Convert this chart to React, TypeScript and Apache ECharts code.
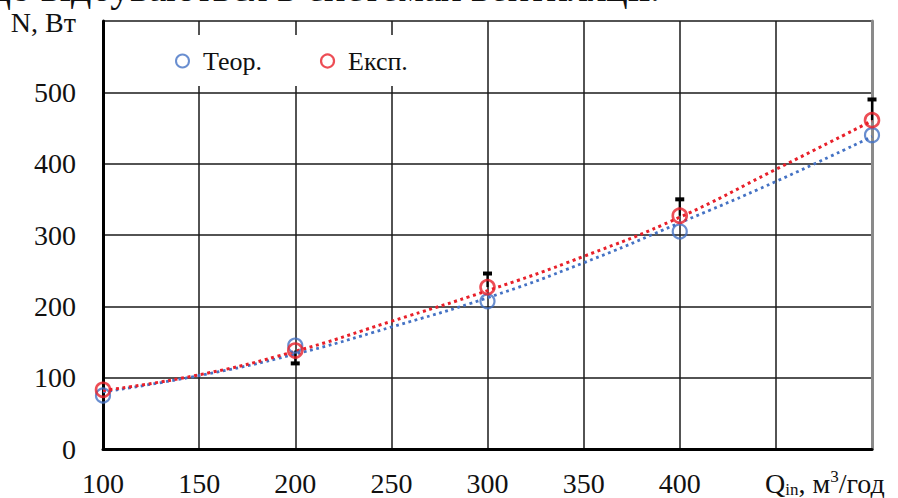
import React, { useEffect, useRef } from "react";
import * as echarts from "echarts";

const xTicks = [100, 150, 200, 250, 300, 350, 400, 450, 500];
const hiddenXLabels = [450, 500];
const teorPoints = [[100, 75], [200, 145], [300, 207], [400, 305], [500, 440]];
const ekspPoints = [[100, 83], [200, 138], [300, 227], [400, 327], [500, 461]];
const teorTrend = [[100, 80], [150, 103], [200, 133], [250, 171], [300, 212], [350, 261], [400, 317], [450, 375], [500, 438]];
const ekspTrend = [[100, 82], [150, 104], [200, 137], [250, 179], [300, 222], [350, 270], [400, 325], [450, 392], [500, 460]];
// [x, start (at point), end (cap)]
const errorBars = [[200, 138, 120], [300, 227, 246], [400, 327, 350], [500, 461, 490]];

const BLUE = "#4472C4";
const RED = "#E8202A";
const FONT = "Liberation Serif";

export default function App() {
  const ref = useRef<HTMLDivElement>(null);
  useEffect(() => {
    document.body.style.margin = "0";
    const chart = echarts.init(ref.current!, null, { renderer: "svg" });
    chart.setOption({
      animation: false,
      backgroundColor: "#fff",
      textStyle: { fontFamily: FONT, color: "#111" },
      grid: { left: 103, right: 26, top: 21, bottom: 49 },
      legend: {
        left: 118,
        top: 35,
        padding: [13, 28, 12, 57],
        backgroundColor: "#fff",
        itemGap: 58,
        itemWidth: 13,
        itemHeight: 13,
        textStyle: { fontFamily: FONT, fontSize: 26, color: "#111", padding: [0, 0, 0, 9] },
        data: [
          { name: "Теор.", icon: "circle", itemStyle: { color: "#fff", borderColor: BLUE, borderWidth: 2 } },
          { name: "Експ.", icon: "circle", itemStyle: { color: "#fff", borderColor: RED, borderWidth: 2.2 } },
        ],
      },
      xAxis: {
        type: "value",
        min: 100,
        max: 500,
        interval: 50,
        axisLine: { show: true, onZero: false, lineStyle: { color: "#000", width: 3 } },
        axisTick: { show: false },
        axisLabel: {
          fontFamily: FONT,
          fontSize: 28,
          color: "#111",
          margin: 20,
          formatter: (v: number) => (hiddenXLabels.includes(v) ? "" : String(v)),
        },
        splitLine: { show: true, lineStyle: { color: "#1a1a1a", width: 1.5 } },
      },
      yAxis: [
        {
          type: "value",
          min: 0,
          max: 600,
          interval: 100,
          axisLine: { show: true, lineStyle: { color: "#000", width: 3 } },
          axisTick: { show: false },
          axisLabel: {
            fontFamily: FONT,
            fontSize: 28,
            color: "#111",
            margin: 27,
            formatter: (v: number) => (v === 600 ? "" : String(v)),
          },
          splitLine: { show: true, lineStyle: { color: "#1a1a1a", width: 1.5 } },
        },
        {
          type: "value",
          min: 0,
          max: 600,
          interval: 100,
          position: "right",
          axisLine: { show: true, lineStyle: { color: "#8a8a8a", width: 3 } },
          axisTick: { show: false },
          axisLabel: { show: false },
          splitLine: { show: false },
        },
      ],
      series: [
        {
          type: "line",
          name: "teorTrend",
          data: teorTrend,
          smooth: true,
          symbol: "none",
          lineStyle: { color: BLUE, width: 2.8, type: [2.8, 3.6] },
          z: 3,
        },
        {
          type: "line",
          name: "ekspTrend",
          data: ekspTrend,
          smooth: true,
          symbol: "none",
          lineStyle: { color: RED, width: 3, type: [3, 3.6] },
          z: 3,
        },
        {
          type: "custom",
          name: "errors",
          data: errorBars,
          z: 4,
          renderItem: (params: any, api: any) => {
            const x = api.value(0);
            const p1 = api.coord([x, api.value(1)]);
            const p2 = api.coord([x, api.value(2)]);
            return {
              type: "group",
              children: [
                { type: "line", shape: { x1: p1[0], y1: p1[1], x2: p2[0], y2: p2[1] }, style: { stroke: "#000", lineWidth: 2.2 } },
                { type: "line", shape: { x1: p2[0] - 4.5, y1: p2[1], x2: p2[0] + 4.5, y2: p2[1] }, style: { stroke: "#000", lineWidth: 4 } },
              ],
            };
          },
        },
        {
          type: "scatter",
          name: "Теор.",
          data: teorPoints,
          symbol: "circle",
          symbolSize: 14,
          itemStyle: { color: "rgba(255,255,255,0)", borderColor: BLUE, borderWidth: 2.2 },
          z: 5,
        },
        {
          type: "scatter",
          name: "Експ.",
          data: ekspPoints,
          symbol: "circle",
          symbolSize: 14,
          itemStyle: { color: "rgba(255,255,255,0)", borderColor: RED, borderWidth: 2.6 },
          z: 6,
        },
      ],
      graphic: [
        {
          type: "text",
          right: 238,
          top: -33,
          style: {
            text: "ні, що відбуваються в системах вентиляції.",
            fontFamily: FONT,
            fontSize: 40,
            fill: "#111",
          },
        },
        {
          type: "text",
          x: 76,
          y: 22,
          style: {
            text: "N, Вт",
            fontFamily: FONT,
            fontSize: 28,
            fill: "#111",
            textAlign: "right",
            textVerticalAlign: "middle",
          },
        },
        {
          type: "text",
          x: 765,
          y: 483,
          style: {
            rich: {
              n: { fontFamily: FONT, fontSize: 28, fill: "#111", lineHeight: 30, verticalAlign: "middle" },
              sub: { fontFamily: FONT, fontSize: 17, fill: "#111", lineHeight: 30, verticalAlign: "bottom" },
              sup: { fontFamily: FONT, fontSize: 17, fill: "#111", lineHeight: 30, verticalAlign: "top" },
            },
            text: "{n|Q}{sub|in}{n|, м}{sup|3}{n|/год}",
            textVerticalAlign: "middle",
          },
        },
      ],
    });
    return () => chart.dispose();
  }, []);
  return <div ref={ref} style={{ width: 898, height: 498 }} />;
}
